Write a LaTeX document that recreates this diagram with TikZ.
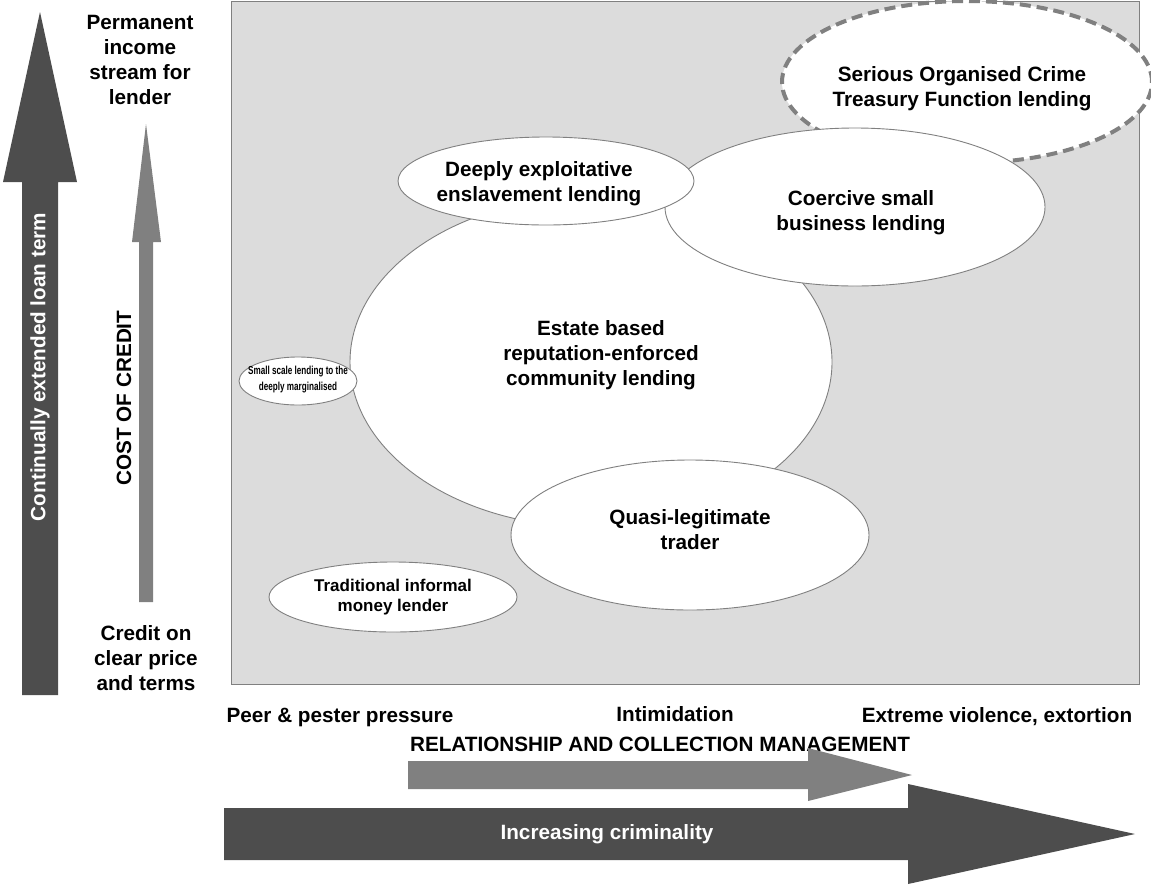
\documentclass[tikz,border=0pt]{standalone}
\usepackage{fontspec}
\setmainfont{Liberation Sans}
\newfontfamily\narrowsans[FakeStretch=0.7]{Liberation Sans}
\usetikzlibrary{shapes.geometric}
\definecolor{darkarrow}{HTML}{4D4D4D}
\definecolor{midarrow}{HTML}{808080}
\definecolor{panel}{HTML}{DCDCDC}
\definecolor{edgegray}{HTML}{808080}
\begin{document}
\begin{tikzpicture}[x=1pt,y=-1pt,
  bigtext/.style={font=\bfseries\fontsize{20.7}{25}\selectfont, align=center, inner sep=0pt},
  midtext/.style={font=\bfseries\fontsize{17}{20}\selectfont, align=center, inner sep=0pt},
  smalltext/.style={font=\narrowsans\bfseries\fontsize{11.6}{16}\selectfont, align=center, inner sep=0pt},
  blob/.style={ellipse, draw=edgegray, fill=white, line width=0.9pt, inner sep=0pt},
  dashblob/.style={ellipse, draw=edgegray, fill=white, line width=4pt, dash pattern=on 11pt off 6pt, inner sep=0pt}]
\useasboundingbox (0,0) rectangle (1151,884);
% panel
\filldraw[fill=panel, draw=edgegray, line width=1pt] (231,1) rectangle (1139,684);
% ellipses (back to front)
\node[dashblob, minimum width=370pt, minimum height=162pt] (serious) at (967,82) {};
\node[blob, minimum width=482pt, minimum height=330pt] (estate) at (591,362) {};
\node[blob, minimum width=380pt, minimum height=158pt] (coercive) at (855,207) {};
\node[blob, minimum width=296pt, minimum height=88pt] (deeply) at (546,181) {};
\node[blob, minimum width=358pt, minimum height=150pt] (quasi) at (690,535) {};
\node[blob, minimum width=118pt, minimum height=48pt] (smallscale) at (298,381) {};
\node[blob, minimum width=248pt, minimum height=70pt] (traditional) at (393,597) {};
% ellipse texts
\node[bigtext] (seriousT) at (962,89) {Serious Organised Crime\\Treasury Function lending};
\node[bigtext] (coerciveT) at (861,213) {Coercive small\\business lending};
\node[bigtext] (deeplyT) at (539,184) {Deeply exploitative\\enslavement lending};
\node[bigtext] (estateT) at (601,355) {Estate based\\reputation-enforced\\community lending};
\node[bigtext] (quasiT) at (690,530) {Quasi-legitimate\\trader};
\node[smalltext] (smallT) at (298,380) {Small scale lending to the\\deeply marginalised};
\node[midtext] (tradT) at (393,597) {Traditional informal\\money lender};
% left arrows
\fill[darkarrow] (22,695) -- (22,182) -- (3,182) -- (40,12) -- (77,182) -- (58,182) -- (58,695) -- cycle;
\fill[midarrow] (139,602) -- (139,242) -- (132,242) -- (146,124) -- (161,242) -- (153,242) -- (153,602) -- cycle;
\node[bigtext, text=white, rotate=90] (loanterm) at (40,367) {Continually extended loan term};
\node[bigtext, rotate=90] (cost) at (124,398) {COST OF CREDIT};
\node[bigtext] (permanent) at (140,60) {Permanent\\income\\stream for\\lender};
\node[bigtext] (creditclear) at (146,658) {Credit on\\clear price\\and terms};
% bottom labels
\node[bigtext] (peer) at (340,717) {Peer \& pester pressure};
\node[bigtext] (intim) at (675,714) {Intimidation};
\node[bigtext] (extreme) at (997,717) {Extreme violence, extortion};
\node[bigtext] (relation) at (660,744) {RELATIONSHIP AND COLLECTION MANAGEMENT};
% bottom arrows
\fill[midarrow] (408,761) -- (808,761) -- (808,748) -- (912,775) -- (808,801) -- (808,789) -- (408,789) -- cycle;
\fill[darkarrow] (224,808) -- (908,808) -- (908,784) -- (1135,834) -- (908,884) -- (908,860) -- (224,860) -- cycle;
\node[bigtext, text=white] (crim) at (607,834) {Increasing criminality};
\end{tikzpicture}
\end{document}
